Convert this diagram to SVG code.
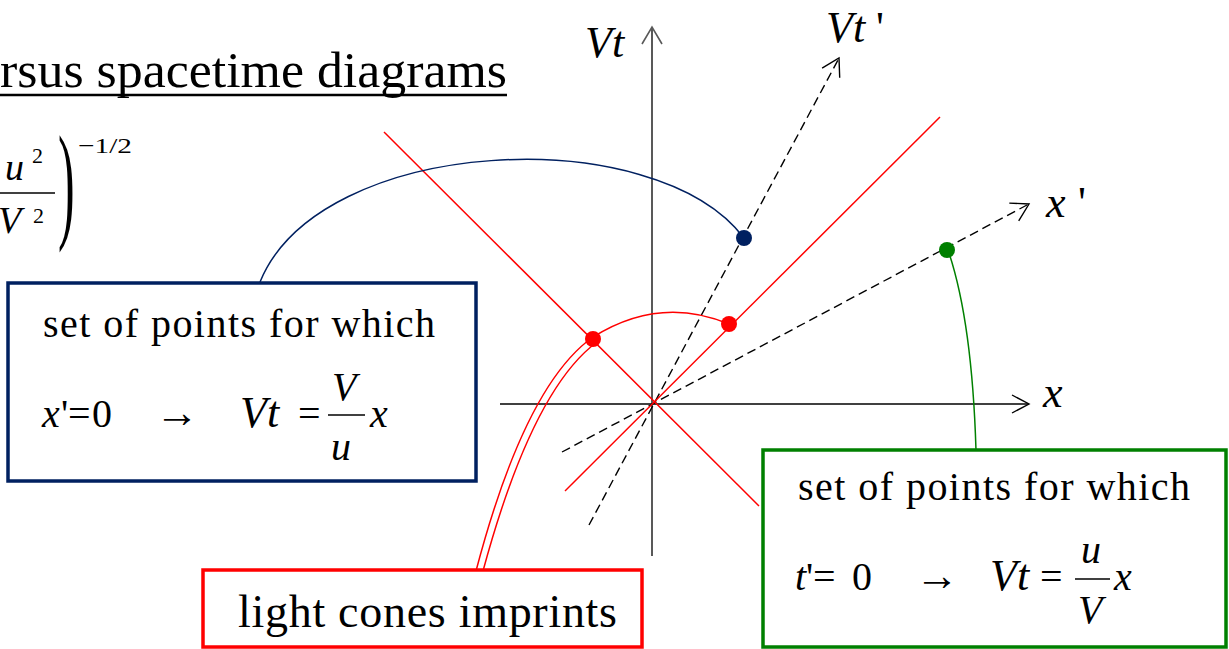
<svg xmlns="http://www.w3.org/2000/svg" width="1229" height="649" viewBox="0 0 1229 649">
<style>
text{font-family:Liberation Serif,Times New Roman,serif;fill:#000}
.it{font-style:italic}
.m{font-size:40px}
.w{font-size:40px}
.ax{font-size:44px;font-style:italic}
.dash{stroke:#000;stroke-width:1.4;stroke-dasharray:9 5;fill:none}
.head{stroke:#000;stroke-width:1.4;fill:none}
.red{stroke:#ff0000;stroke-width:1.5;fill:none}
.bar{stroke:#000;stroke-width:1.6}
</style>
<rect width="1229" height="649" fill="#fff"/>

<g id="title">
<text x="0" y="87" font-size="50" textLength="507" lengthAdjust="spacingAndGlyphs">rsus spacetime diagrams</text>
<line x1="0" y1="95" x2="507" y2="95" stroke="#000" stroke-width="2.5"/>
</g>

<g id="gamma-formula">
<text x="5" y="180" font-size="38" class="it">u</text>
<text x="32" y="163" font-size="22">2</text>
<line x1="0" y1="193" x2="55" y2="193" class="bar"/>
<text x="-2" y="233" font-size="38" class="it">V</text>
<text x="33" y="223" font-size="22">2</text>
<text transform="translate(58,224.5) scale(1,2.58)" font-size="50">)</text>
<text x="78" y="153" font-size="22" textLength="54" lengthAdjust="spacingAndGlyphs">−1/2</text>
</g>

<g id="axes">
<line x1="652" y1="556" x2="652" y2="28" stroke="#595959" stroke-width="2"/>
<polyline points="642,44 652,27 662,44" fill="none" stroke="#595959" stroke-width="1.6"/>
<text x="585" y="57" class="ax">Vt</text>
<line x1="500" y1="404" x2="1028" y2="404" stroke="#000" stroke-width="1.6"/>
<polyline points="1012,395 1029,404 1012,413" class="head"/>
<text x="1043" y="407" class="ax">x</text>
<line x1="589" y1="525" x2="838" y2="60" class="dash"/>
<polyline points="822.1,68.2 839,58 839.7,77.7" class="head"/>
<text x="826" y="42" class="ax">Vt</text>
<text x="876" y="42" font-size="44">'</text>
<line x1="562" y1="452" x2="1027" y2="205" class="dash"/>
<polyline points="1009.3,203.1 1029,204 1018.7,220.8" class="head"/>
<text x="1046" y="217" class="ax">x</text>
<text x="1078" y="217" font-size="44">'</text>
</g>

<g id="light-cone">
<line x1="384" y1="132" x2="759" y2="506" class="red"/>
<line x1="940" y1="117" x2="565" y2="491" class="red"/>
</g>

<g id="connectors">
<path d="M260,282 C320,135 655,120 744,238" fill="none" stroke="#002060" stroke-width="1.5"/>
<path d="M948,250 Q972,320 976,450" fill="none" stroke="#008000" stroke-width="1.5"/>
<path d="M476,571 Q525,385 593,337 Q660,295 729,324" class="red"/>
<path d="M483,571 Q532,390 597,342" class="red"/>
</g>

<g id="points">
<circle cx="744" cy="238" r="8" fill="#002060"/>
<circle cx="947" cy="250" r="8" fill="#008000"/>
<circle cx="593" cy="339" r="8" fill="#ff0000"/>
<circle cx="729" cy="324" r="8" fill="#ff0000"/>
</g>

<g id="node-x-prime-zero">
<rect x="8" y="283" width="468" height="198" fill="#fff" stroke="#002060" stroke-width="3.5"/>
<text x="43" y="337" class="w" textLength="392">set of points for which</text>
<text x="42" y="427" class="m it">x</text>
<text x="61" y="427" class="m">'</text>
<text x="68" y="427" class="m">=</text>
<text x="92" y="427" class="m">0</text>
<text x="155" y="427" font-size="44">→</text>
<text x="240" y="427" font-size="44" class="it">Vt</text>
<text x="298" y="427" class="m">=</text>
<line x1="328" y1="415" x2="365" y2="415" class="bar"/>
<text x="332" y="400" class="m it">V</text>
<text x="331" y="460" class="m it">u</text>
<text x="370" y="427" class="m it">x</text>
</g>

<g id="node-t-prime-zero">
<rect x="763" y="450" width="463" height="197" fill="#fff" stroke="#008000" stroke-width="3.5"/>
<text x="798" y="500" class="w" textLength="392">set of points for which</text>
<text x="795" y="590" class="m it">t</text>
<text x="806" y="590" class="m">'</text>
<text x="813" y="590" class="m">=</text>
<text x="852" y="590" class="m">0</text>
<text x="915" y="590" font-size="44">→</text>
<text x="990" y="590" font-size="44" class="it">Vt</text>
<text x="1040" y="590" class="m">=</text>
<line x1="1075" y1="579" x2="1110" y2="579" class="bar"/>
<text x="1081" y="563" class="m it">u</text>
<text x="1078" y="623" class="m it">V</text>
<text x="1114" y="590" class="m it">x</text>
</g>

<g id="node-light-cones">
<rect x="203" y="570" width="439" height="77" fill="#fff" stroke="#ff0000" stroke-width="3.5"/>
<text x="238" y="627" font-size="46" textLength="379">light cones imprints</text>
</g>
</svg>
